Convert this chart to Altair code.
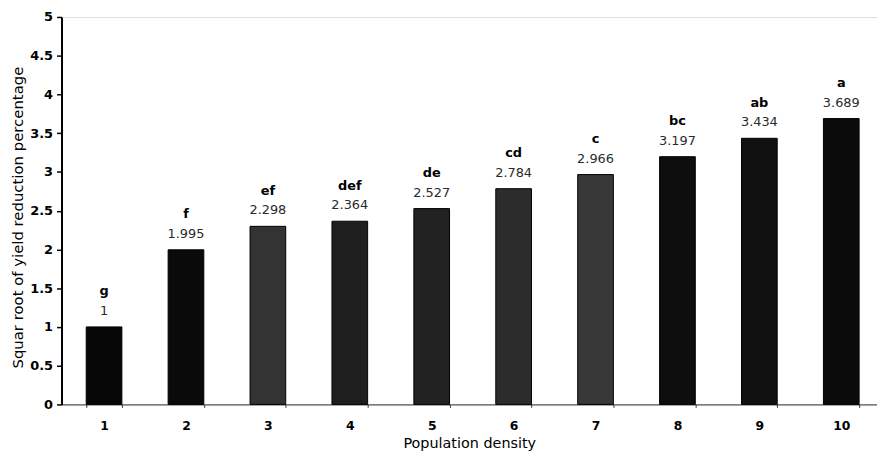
import altair as alt
import pandas as pd

densities = ["1", "2", "3", "4", "5", "6", "7", "8", "9", "10"]
values = [1.0, 1.995, 2.298, 2.364, 2.527, 2.784, 2.966, 3.197, 3.434, 3.689]
value_labels = ["1", "1.995", "2.298", "2.364", "2.527", "2.784", "2.966", "3.197", "3.434", "3.689"]
letters = ["g", "f", "ef", "def", "de", "cd", "c", "bc", "ab", "a"]
y_ticks = [0, 0.5, 1, 1.5, 2, 2.5, 3, 3.5, 4, 4.5, 5]

bar_colors = ["#060606", "#0a0a0a", "#333333", "#1e1e1e", "#222222",
              "#2c2c2c", "#383838", "#0e0e0e", "#111111", "#0b0b0b"]

df = pd.DataFrame({
    "density": densities,
    "value": values,
    "vlabel": value_labels,
    "letter": letters,
})

FONT = "DejaVu Sans"

x = alt.X(
    "density:N",
    sort=densities,
    scale=alt.Scale(paddingInner=0.5645, paddingOuter=0.26, align=0.58),
    axis=alt.Axis(
        title="Population density",
        labelAngle=0,
        labelFont=FONT,
        labelFontSize=12.5,
        labelFontWeight="bold",
        labelColor="#000",
        labelPadding=12,
        ticks=True,
        tickBand="extent",
        tickSize=3,
        tickColor="#333",
        domainColor="#333",
        domainWidth=1,
        grid=False,
        titleFont=FONT,
        titleFontSize=14.5,
        titleFontWeight="normal",
        titleColor="#000",
        titlePadding=5,
    ),
)

y = alt.Y(
    "value:Q",
    scale=alt.Scale(domain=[0, 5], nice=False),
    axis=alt.Axis(
        title="Squar root of yield reduction percentage",
        values=y_ticks,
        labelOverlap=False,
        format="~g",
        grid=False,
        labelFont=FONT,
        labelFontSize=13,
        labelFontWeight="bold",
        labelColor="#000",
        tickSize=5,
        tickColor="#000",
        tickWidth=1.5,
        domainColor="#000",
        domainWidth=2,
        labelPadding=4,
        titleFont=FONT,
        titleFontSize=15,
        titleFontWeight="normal",
        titleColor="#000",
        titleX=-36,
        titleY=202,
    ),
)

base = alt.Chart(df)

bars = base.mark_bar(stroke="#000", strokeWidth=1).encode(
    x=x,
    y=y,
    color=alt.Color("density:N", sort=densities,
                    scale=alt.Scale(domain=densities, range=bar_colors),
                    legend=None),
)

num_text = base.mark_text(
    font=FONT, fontSize=13, color="#2a2a2a", baseline="bottom", dy=-9
).encode(x=x, y=y, text="vlabel:N")

let_text = base.mark_text(
    font=FONT, fontSize=13, fontWeight="bold", color="#000", baseline="bottom", dy=-29
).encode(x=x, y=y, text="letter:N")

chart = (bars + num_text + let_text).properties(
    width=823,
    height=391,
    autosize=alt.AutoSizeParams(type="none"),
    padding={"left": 54, "top": 7, "right": 0, "bottom": 47},
).configure_view(strokeWidth=0, stroke="transparent").configure_axis(grid=False).configure(background="white")

chart.save("out.html", embed_options={"renderer": "svg", "actions": False})
